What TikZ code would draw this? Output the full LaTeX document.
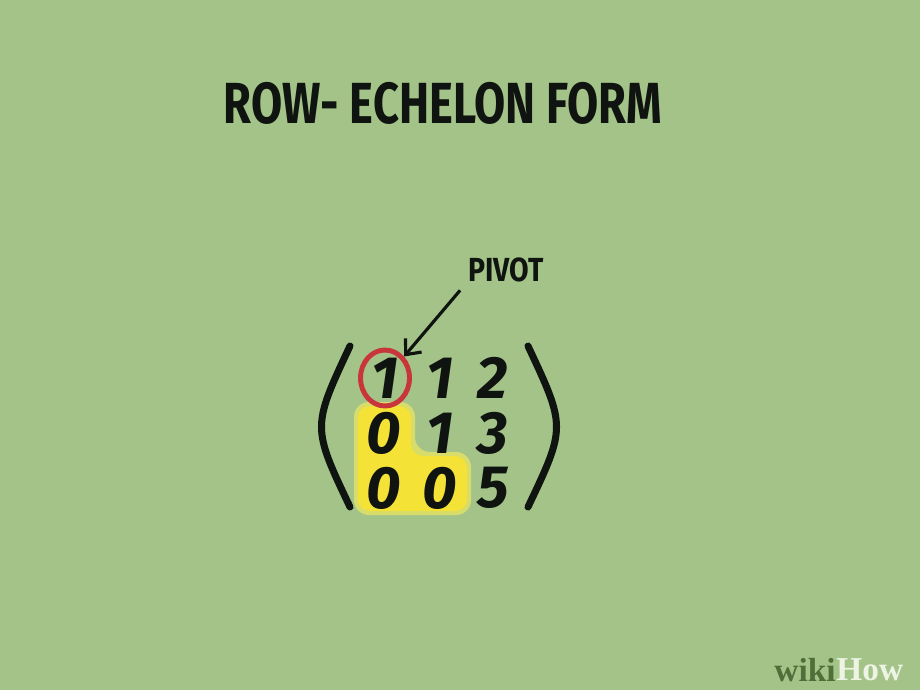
\documentclass[tikz,border=0pt]{standalone}
\usepackage{fontspec}
\setmainfont{Fira Sans}
\newfontfamily\wkfont{Liberation Serif}
\usetikzlibrary{arrows.meta,positioning,shapes.geometric}
\definecolor{bggreen}{HTML}{A3C388}
\definecolor{inkblack}{HTML}{101410}
\definecolor{pivred}{HTML}{C8353A}
\definecolor{hlyellow}{HTML}{F4E236}
\definecolor{hlglow}{HTML}{D8DC6A}
\definecolor{wkgreen}{HTML}{4E6E3A}
\definecolor{wkwhite}{HTML}{EEF4E4}

\begin{document}
\begin{tikzpicture}[x=0.02cm,y=-0.02cm,font=\bfseries]
    \tikzstyle{entry}=[text=inkblack,inner sep=0pt,font=\fontsize{34}{36}\selectfont\bfseries\itshape]
    \tikzstyle{paren}=[draw=inkblack,line width=4pt,line cap=round]
    % background
    \fill[bggreen] (0,0) rectangle (920,690);
    % highlighted zeros below the pivot
    \fill[hlglow,rounded corners=0.3cm] (354,402) -- (415,402) -- (415,452) -- (471,452) -- (471,515) -- (354,515) -- cycle;
    \fill[hlyellow,rounded corners=0.24cm] (358,406) -- (411,406) -- (411,456) -- (467,456) -- (467,511) -- (358,511) -- cycle;
    \node[text=inkblack,xscale=0.78,font=\fontsize{33}{36}\selectfont\bfseries] (title) at (443,103) {ROW- ECHELON FORM};
    \node[text=inkblack,xscale=0.85,font=\fontsize{19}{22}\selectfont\bfseries] (pivot) at (506,270) {PIVOT};
    % matrix entries
    \node[entry] (m11) at (385,378) {1};
    \node[entry] (m12) at (440,378) {1};
    \node[entry] (m13) at (493,378) {2};
    \node[entry] (m21) at (384,433) {0};
    \node[entry] (m22) at (440,433) {1};
    \node[entry] (m23) at (493,433) {3};
    \node[entry] (m31) at (384,488) {0};
    \node[entry] (m32) at (440,488) {0};
    \node[entry] (m33) at (493,488) {5};
    \node[ellipse,draw=pivred,line width=2.8pt,minimum width=0.98cm,minimum height=1.12cm] (ring) at (m11) {};
    \draw[paren] (350,346) .. controls (312,427) .. (350,507);
    \draw[paren] (528,346) .. controls (566,427) .. (528,507);
    \draw[inkblack,line width=1.8pt,-{Straight Barb[length=7pt,width=12pt,line width=1.8pt]}] (pivot.south west) ++(-3,2) coordinate (tail) (tail) -- (ring.north east);
    \node[anchor=east,inner sep=0pt,font=\fontsize{19}{22}\selectfont\wkfont\bfseries] (wiki) at (836,670) {\textcolor{wkgreen}{wiki}};
    \node[anchor=west,inner sep=0pt,font=\fontsize{19}{22}\selectfont\wkfont\bfseries] (how) at (wiki.east) {\textcolor{wkwhite}{How}};
\end{tikzpicture}
\end{document}
